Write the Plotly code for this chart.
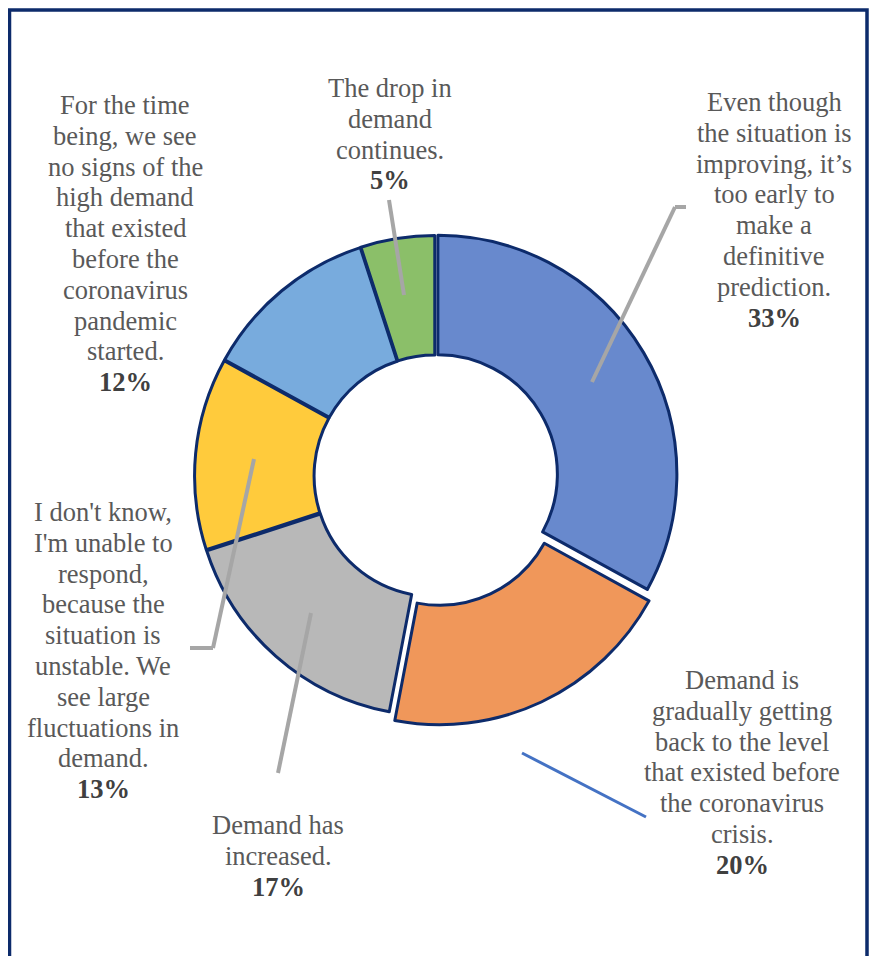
import plotly.graph_objects as go

# ---- data ----
categories = [
    "Even though<br>the situation is<br>improving, it\u2019s<br>too early to<br>make a<br>definitive<br>prediction.",
    "Demand is<br>gradually getting<br>back to the level<br>that existed before<br>the coronavirus<br>crisis.",
    "Demand has<br>increased.",
    "I don't know,<br>I'm unable to<br>respond,<br>because the<br>situation is<br>unstable. We<br>see large<br>fluctuations in<br>demand.",
    "For the time<br>being, we see<br>no signs of the<br>high demand<br>that existed<br>before the<br>coronavirus<br>pandemic<br>started.",
    "The drop in<br>demand<br>continues.",
]
values = [33, 20, 17, 13, 12, 5]

# ---- style / layout ----
W, H = 877, 956
OFF = 8  # page body margin of the html page
colors = ["#6889CD", "#F0975A", "#B8B8B8", "#FFCB3C", "#78ABDD", "#8BBF69"]
pulls = [0.014, 0.045, 0.006, 0.006, 0.006, 0.006]
navy = "#0D2B6B"
FONT = "Liberation Serif, Times New Roman, serif"
FS = 26.5
LINE = 30.8

# label block: centre x and first-line centre y (page pixels)
label_pos = [(774, 102), (742, 680), (278, 825), (103, 512), (125, 105), (390, 88)]

# leader lines (page-pixel polylines) and colours
leaders = [
    ([(686, 207), (675, 207), (592, 382)], "#A6A6A6", 4),
    ([(522, 753), (646, 817)], "#4472C4", 3),
    ([(311, 613), (278, 773)], "#A6A6A6", 4),
    ([(254, 459), (213, 648), (190, 648)], "#A6A6A6", 4),
    ([(389, 200), (404, 295)], "#A6A6A6", 4),
]


def px(x):
    return (x - OFF) / W


def py(y):
    return 1 - (y - OFF) / H


cx, cy, R = 435, 476, 239
maxpull = max(pulls)
half = R * (1 + maxpull)

fig = go.Figure(
    go.Pie(
        labels=[c.replace("<br>", " ") for c in categories],
        values=values,
        hole=0.5,
        sort=False,
        direction="clockwise",
        rotation=0,
        pull=pulls,
        textinfo="none",
        marker=dict(colors=colors, line=dict(color=navy, width=3)),
        domain=dict(x=[px(cx - half), px(cx + half)], y=[py(cy + half), py(cy - half)]),
        showlegend=False,
        hoverinfo="label+percent",
    )
)

annotations = []
for cat, val, (x, y0) in zip(categories, values, label_pos):
    lines = cat.split("<br>") + [f"<b>{val}%</b>"]
    for i, ln in enumerate(lines):
        bold = ln.startswith("<b>")
        annotations.append(
            dict(
                x=px(x), y=py(y0 + i * LINE), xref="paper", yref="paper",
                text=ln, showarrow=False, xanchor="center", yanchor="middle",
                align="center",
                font=dict(family=FONT, size=FS,
                          color="#404040" if bold else "#595959"),
            )
        )

shapes = []
for pts, col, w in leaders:
    for (x0, y0), (x1, y1) in zip(pts[:-1], pts[1:]):
        shapes.append(dict(type="line", xref="paper", yref="paper",
                           x0=px(x0), y0=py(y0), x1=px(x1), y1=py(y1),
                           line=dict(color=col, width=w)))
# outer frame (left edge sits on the figure's own left boundary)
shapes.append(dict(type="rect", xref="paper", yref="paper",
                   x0=px(OFF + 1.5), y0=py(1000), x1=px(867), y1=py(10),
                   line=dict(color=navy, width=3.5), fillcolor="rgba(0,0,0,0)"))

fig.update_layout(
    width=W, height=H,
    margin=dict(l=0, r=0, t=0, b=0),
    paper_bgcolor="white", plot_bgcolor="white",
    annotations=annotations, shapes=shapes,
)

fig.write_html("out.html")
